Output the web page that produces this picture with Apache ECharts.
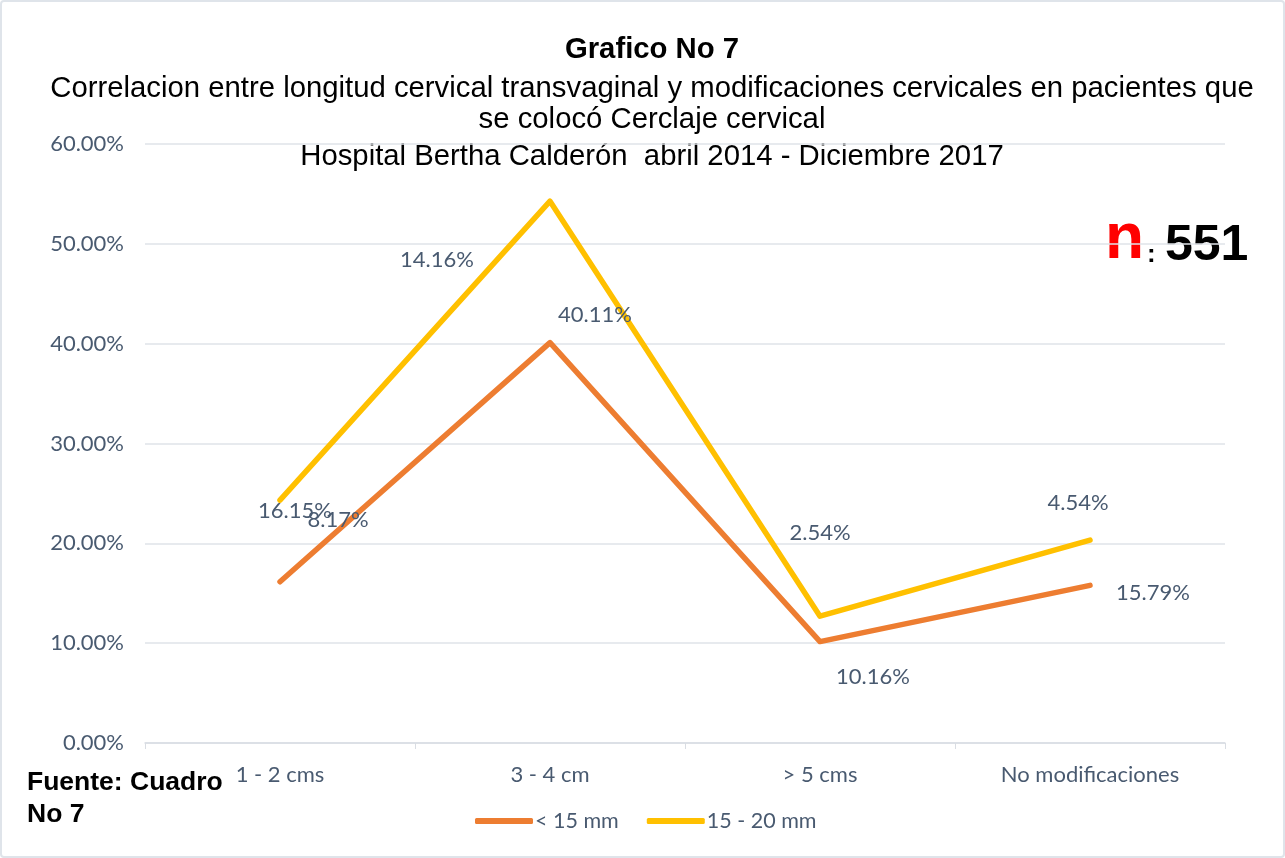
<!DOCTYPE html>
<html>
<head>
<meta charset="utf-8">
<script src="https://cdn.jsdelivr.net/npm/echarts@6/dist/echarts.min.js"></script>
<style>
  html, body { margin: 0; padding: 0; background: #fff; }
  #main { position: absolute; left: 0; top: 0; width: 1281px; height: 854px; border: 2px solid #dfe4ea; border-radius: 4px; }
</style>
</head>
<body>
<div id="main"></div>
<script>
// data
const categories = ['1 - 2 cms', '3 - 4 cm', '> 5 cms', 'No modificaciones'];
const under15 = [16.15, 40.11, 10.16, 15.79];
const from15to20 = [8.17, 14.16, 2.54, 4.54];
const yTicks = [0, 10, 20, 30, 40, 50, 60];

const textColor = '#495a70';
const labelFont = 'Lato';
const labelSize = 22;

// where each data label sits relative to its point
const shiftUnder = [[15, -71], [45, -28], [53, 35], [63, 8]];
const shiftOver = [[58, 20], [-113, 59], [0, -83], [-12, -37]];

function withLabels(values, shifts) {
    return values.map((v, i) => ({
        value: v,
        label: { offset: shifts[i] }
    }));
}

// centred heading line
function heading(text, y, bold) {
    return {
        type: 'text', x: 650, y: y,
        style: {
            text: text, align: 'center', verticalAlign: 'middle',
            fontFamily: 'Liberation Sans', fontWeight: bold ? 'bold' : 'normal',
            fontSize: 29.3, fill: '#000'
        }
    };
}

const myChart = echarts.init(document.getElementById('main'));

const option = {
    animation: false,
    graphic: [
        heading('Grafico No 7', 48, true),
        heading('Correlacion entre longitud cervical transvaginal y modificaciones cervicales en pacientes que', 87, false),
        heading('se colocó Cerclaje cervical', 118, false),
        heading('Hospital Bertha Calderón  abril 2014 - Diciembre 2017', 155, false),
        {
            type: 'text', left: 1103, top: 206,
            style: { text: 'n', fontFamily: 'Liberation Sans', fontWeight: 'bold', fontSize: 64, fill: '#ff0000' }
        },
        {
            type: 'text', left: 1145, top: 240,
            style: { text: ':', fontFamily: 'Liberation Sans', fontWeight: 'bold', fontSize: 26, fill: '#000' }
        },
        {
            type: 'text', left: 1163, top: 219,
            style: { text: '551', fontFamily: 'Liberation Sans', fontWeight: 'bold', fontSize: 50, fill: '#000' }
        },
        {
            type: 'text', left: 25, top: 765,
            style: {
                text: 'Fuente: Cuadro\nNo 7',
                fontFamily: 'Liberation Sans', fontWeight: 'bold', fontSize: 26.5,
                lineHeight: 32, fill: '#000'
            }
        }
    ],
    legend: {
        bottom: 19,
        left: 468,
        itemWidth: 58,
        itemHeight: 6,
        itemGap: 28,
        icon: 'roundRect',
        textStyle: { fontFamily: labelFont, fontSize: 21.5, color: textColor, padding: [0, 0, 0, -3] },
        data: ['< 15 mm', '15 - 20 mm']
    },
    grid: { left: 143, right: 58, top: 142, bottom: 113, containLabel: false },
    xAxis: {
        type: 'category',
        data: categories,
        boundaryGap: true,
        axisLine: { lineStyle: { color: '#d9dde3', width: 1.5 } },
        axisTick: { show: true, length: 6, lineStyle: { color: '#d9dde3' } },
        axisLabel: { fontFamily: labelFont, fontSize: labelSize, color: textColor, margin: 21 }
    },
    yAxis: {
        type: 'value',
        min: yTicks[0],
        max: yTicks[yTicks.length - 1],
        interval: 10,
        axisLine: { show: false },
        axisTick: { show: false },
        splitLine: { lineStyle: { color: '#dfe3e8', width: 1.5 } },
        axisLabel: {
            fontFamily: labelFont, fontSize: labelSize, color: textColor, margin: 21,
            formatter: v => v.toFixed(2) + '%'
        }
    },
    series: [
        {
            name: '< 15 mm',
            type: 'line',
            stack: 'total',
            data: withLabels(under15, shiftUnder),
            color: '#ed7d31',
            symbol: 'circle',
            symbolSize: 2,
            lineStyle: { width: 5.5, cap: 'round', join: 'round' },
            label: {
                show: true, position: 'inside',
                fontFamily: labelFont, fontSize: labelSize, color: textColor,
                formatter: p => p.value.toFixed(2) + '%'
            }
        },
        {
            name: '15 - 20 mm',
            type: 'line',
            stack: 'total',
            data: withLabels(from15to20, shiftOver),
            color: '#ffc000',
            symbol: 'circle',
            symbolSize: 2,
            lineStyle: { width: 5.5, cap: 'round', join: 'round' },
            label: {
                show: true, position: 'inside',
                fontFamily: labelFont, fontSize: labelSize, color: textColor,
                formatter: p => p.value.toFixed(2) + '%'
            }
        }
    ]
};

myChart.setOption(option);
</script>
</body>
</html>
